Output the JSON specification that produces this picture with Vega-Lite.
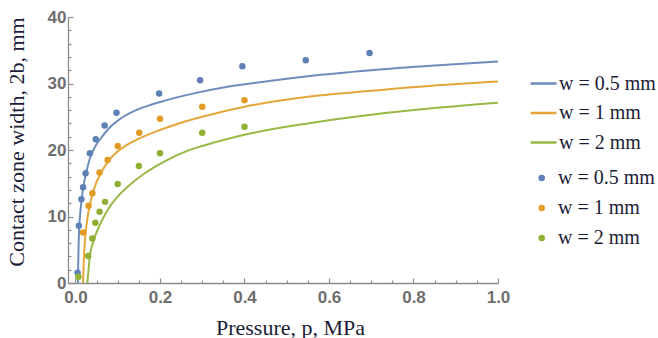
{
  "$schema": "https://vega.github.io/schema/vega-lite/v6.json",
  "autosize": {"type": "none"},
  "padding": {"left": 68, "top": 17, "right": 160, "bottom": 55},
  "width": 430,
  "height": 266,
  "background": "white",
  "config": {
    "view": {"stroke": null},
    "axis": {
      "grid": false,
      "domainColor": "#8c8c8c",
      "domainWidth": 1.3,
      "tickColor": "#8c8c8c",
      "tickWidth": 1.2,
      "labelFont": "Liberation Sans",
      "labelFontSize": 17,
      "labelFontWeight": "bold",
      "labelColor": "#6e6e6e",
      "titleFont": "Liberation Serif",
      "titleFontSize": 22,
      "titleFontWeight": "normal",
      "titleColor": "#1c1c36"
    },
    "legend": {
      "labelFont": "Liberation Serif",
      "labelFontSize": 20,
      "labelColor": "#1c1c36",
      "padding": 0
    }
  },
  "resolve": {"axis": {"x": "independent", "y": "independent"}},
  "datasets": {
    "curves": [
      {"p": 0.0058, "b": 0, "w": "L0.5"}, {"p": 0.0065, "b": 3, "w": "L0.5"}, {"p": 0.0075, "b": 6, "w": "L0.5"},
      {"p": 0.009, "b": 8.5, "w": "L0.5"}, {"p": 0.012, "b": 11, "w": "L0.5"}, {"p": 0.015, "b": 12.8, "w": "L0.5"},
      {"p": 0.02, "b": 15, "w": "L0.5"}, {"p": 0.025, "b": 16.5, "w": "L0.5"}, {"p": 0.033, "b": 18.5, "w": "L0.5"},
      {"p": 0.041, "b": 19.8, "w": "L0.5"}, {"p": 0.05, "b": 20.9, "w": "L0.5"}, {"p": 0.064, "b": 22.1, "w": "L0.5"},
      {"p": 0.08, "b": 23.3, "w": "L0.5"}, {"p": 0.104, "b": 24.6, "w": "L0.5"}, {"p": 0.137, "b": 25.8, "w": "L0.5"},
      {"p": 0.16, "b": 26.4, "w": "L0.5"}, {"p": 0.216, "b": 27.5, "w": "L0.5"}, {"p": 0.294, "b": 28.7, "w": "L0.5"},
      {"p": 0.35, "b": 29.4, "w": "L0.5"}, {"p": 0.437, "b": 30.2, "w": "L0.5"}, {"p": 0.55, "b": 31.1, "w": "L0.5"},
      {"p": 0.7, "b": 32.0, "w": "L0.5"}, {"p": 0.85, "b": 32.7, "w": "L0.5"}, {"p": 1.0, "b": 33.3, "w": "L0.5"},
      {"p": 0.018, "b": 0, "w": "L1"}, {"p": 0.0195, "b": 3, "w": "L1"}, {"p": 0.021, "b": 5, "w": "L1"},
      {"p": 0.024, "b": 7.5, "w": "L1"}, {"p": 0.029, "b": 10, "w": "L1"}, {"p": 0.035, "b": 12, "w": "L1"},
      {"p": 0.041, "b": 13.5, "w": "L1"}, {"p": 0.05, "b": 15.2, "w": "L1"}, {"p": 0.06, "b": 16.5, "w": "L1"},
      {"p": 0.08, "b": 18.5, "w": "L1"}, {"p": 0.1, "b": 19.8, "w": "L1"}, {"p": 0.12, "b": 20.7, "w": "L1"},
      {"p": 0.15, "b": 21.7, "w": "L1"}, {"p": 0.2, "b": 23.0, "w": "L1"}, {"p": 0.25, "b": 24.1, "w": "L1"},
      {"p": 0.3, "b": 25.0, "w": "L1"}, {"p": 0.4, "b": 26.5, "w": "L1"}, {"p": 0.55, "b": 28.0, "w": "L1"},
      {"p": 0.7, "b": 28.9, "w": "L1"}, {"p": 0.85, "b": 29.7, "w": "L1"}, {"p": 1.0, "b": 30.3, "w": "L1"},
      {"p": 0.028, "b": 0, "w": "L2"}, {"p": 0.031, "b": 2, "w": "L2"}, {"p": 0.034, "b": 4, "w": "L2"},
      {"p": 0.04, "b": 5.8, "w": "L2"}, {"p": 0.048, "b": 7.3, "w": "L2"}, {"p": 0.058, "b": 8.8, "w": "L2"},
      {"p": 0.07, "b": 10.3, "w": "L2"}, {"p": 0.087, "b": 12, "w": "L2"}, {"p": 0.1, "b": 13.0, "w": "L2"},
      {"p": 0.124, "b": 14.5, "w": "L2"}, {"p": 0.164, "b": 16.5, "w": "L2"}, {"p": 0.211, "b": 18.3, "w": "L2"},
      {"p": 0.266, "b": 19.9, "w": "L2"}, {"p": 0.3, "b": 20.6, "w": "L2"}, {"p": 0.4, "b": 22.3, "w": "L2"},
      {"p": 0.55, "b": 24.0, "w": "L2"}, {"p": 0.7, "b": 25.3, "w": "L2"}, {"p": 0.85, "b": 26.3, "w": "L2"},
      {"p": 1.0, "b": 27.1, "w": "L2"}
    ],
    "meas": [
      {"p": 0.005, "b": 1.55, "w": "P0.5"}, {"p": 0.008, "b": 8.6, "w": "P0.5"}, {"p": 0.014, "b": 12.6, "w": "P0.5"},
      {"p": 0.018, "b": 14.4, "w": "P0.5"}, {"p": 0.024, "b": 16.5, "w": "P0.5"}, {"p": 0.034, "b": 19.5, "w": "P0.5"},
      {"p": 0.048, "b": 21.6, "w": "P0.5"}, {"p": 0.069, "b": 23.7, "w": "P0.5"}, {"p": 0.097, "b": 25.6, "w": "P0.5"},
      {"p": 0.198, "b": 28.5, "w": "P0.5"}, {"p": 0.295, "b": 30.5, "w": "P0.5"}, {"p": 0.395, "b": 32.6, "w": "P0.5"},
      {"p": 0.545, "b": 33.5, "w": "P0.5"}, {"p": 0.696, "b": 34.6, "w": "P0.5"},
      {"p": 0.018, "b": 7.6, "w": "P1"}, {"p": 0.031, "b": 11.6, "w": "P1"}, {"p": 0.04, "b": 13.5, "w": "P1"},
      {"p": 0.057, "b": 16.6, "w": "P1"}, {"p": 0.076, "b": 18.5, "w": "P1"}, {"p": 0.1, "b": 20.6, "w": "P1"},
      {"p": 0.151, "b": 22.6, "w": "P1"}, {"p": 0.2, "b": 24.7, "w": "P1"}, {"p": 0.3, "b": 26.5, "w": "P1"},
      {"p": 0.4, "b": 27.5, "w": "P1"},
      {"p": 0.007, "b": 0.95, "w": "P2"}, {"p": 0.03, "b": 4.06, "w": "P2"}, {"p": 0.04, "b": 6.7, "w": "P2"},
      {"p": 0.047, "b": 9.07, "w": "P2"}, {"p": 0.057, "b": 10.7, "w": "P2"}, {"p": 0.07, "b": 12.2, "w": "P2"},
      {"p": 0.1, "b": 14.9, "w": "P2"}, {"p": 0.15, "b": 17.6, "w": "P2"}, {"p": 0.2, "b": 19.5, "w": "P2"},
      {"p": 0.3, "b": 22.6, "w": "P2"}, {"p": 0.4, "b": 23.5, "w": "P2"}
    ]
  },
  "layer": [
    {
      "data": {"name": "curves"},
      "mark": {"type": "line", "strokeWidth": 2, "interpolate": "monotone", "opacity": 0.9},
      "encoding": {
        "x": {
          "field": "p", "type": "quantitative",
          "scale": {"domain": [-0.0177, 1.0], "nice": false, "zero": false},
          "axis": {
            "orient": "bottom",
            "title": null,
            "labels": false,
            "domain": false,
            "values": [0.05, 0.1, 0.15, 0.25, 0.3, 0.35, 0.45, 0.5, 0.55, 0.65, 0.7, 0.75, 0.85, 0.9, 0.95],
            "tickSize": -3
          }
        },
        "y": {
          "field": "b", "type": "quantitative",
          "scale": {"domain": [0, 40], "nice": false},
          "axis": {
            "orient": "left",
            "title": null,
            "labels": false,
            "domain": false,
            "values": [2, 4, 6, 8, 12, 14, 16, 18, 22, 24, 26, 28, 32, 34, 36, 38],
            "tickSize": -3
          }
        },
        "stroke": {
          "field": "w", "type": "nominal",
          "scale": {"domain": ["L0.5", "L1", "L2"], "range": ["#5E81B5", "#E19C24", "#8FB032"]},
          "legend": {
            "title": null,
            "orient": "none",
            "legendX": 461,
            "legendY": 52,
            "symbolType": "M-1,0L1,0",
            "symbolSize": 676,
            "symbolStrokeWidth": 2.5,
            "labelExpr": "'w = ' + slice(datum.label, 1) + ' mm'",
            "labelOffset": 1,
            "rowPadding": 4.5
          }
        }
      }
    },
    {
      "data": {"name": "meas"},
      "mark": {"type": "circle", "size": 42, "opacity": 1},
      "encoding": {
        "x": {
          "field": "p", "type": "quantitative",
          "axis": {
            "orient": "bottom",
            "title": "Pressure, p, MPa",
            "values": [0, 0.2, 0.4, 0.6, 0.8, 1.0],
            "format": ".1f",
            "tickSize": -5,
            "labelPadding": 11,
            "labelFlush": false,
            "labelOverlap": false,
            "titleX": 222,
            "titleY": 51,
            "titleAlign": "center",
            "titleBaseline": "alphabetic"
          }
        },
        "y": {
          "field": "b", "type": "quantitative",
          "axis": {
            "orient": "left",
            "title": "Contact zone width, 2b, mm",
            "values": [0, 10, 20, 30, 40],
            "format": "d",
            "tickSize": -5,
            "labelPadding": 7,
            "labelFlush": false,
            "labelOverlap": false,
            "titleX": -45,
            "titleY": 124.5,
            "titleAngle": 270,
            "titleAlign": "center",
            "titleBaseline": "alphabetic"
          }
        },
        "fill": {
          "field": "w", "type": "nominal",
          "scale": {"domain": ["P0.5", "P1", "P2"], "range": ["#5E81B5", "#E19C24", "#8FB032"]},
          "legend": {
            "title": null,
            "orient": "none",
            "legendX": 463.7,
            "legendY": 151,
            "symbolType": "circle",
            "symbolSize": 42,
            "symbolStrokeWidth": 0,
            "labelExpr": "'w = ' + slice(datum.label, 1) + ' mm'",
            "labelOffset": 6.3,
            "rowPadding": 10
          }
        }
      }
    }
  ]
}
